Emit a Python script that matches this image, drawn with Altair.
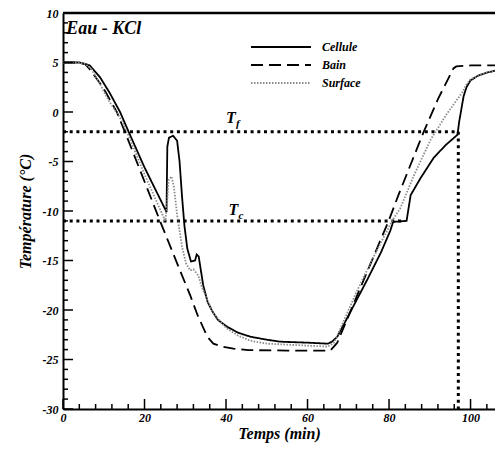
import altair as alt
import pandas as pd

# ---- data ----
cellule_t = [0, 4, 5.5, 6.6, 9.1, 11.5, 14, 16, 20, 25.4, 25.6, 26, 27, 28, 28.6, 29.2, 29.8, 30.5, 31.4, 32.4, 32.8, 33.3,
             34.4, 35.5, 36.6, 38, 40.3, 43, 46, 50, 53.3, 60, 65, 66, 67.3, 70, 74.7, 78, 80.3, 81, 84.3, 85.3, 87.7,
             91, 94, 96.8, 97.2, 98.3, 99, 100, 102, 104.2, 107.4]
cellule_v = [5, 5, 4.85, 4.7, 3.5, 1.9, 0, -1.9, -5.6, -10.1, -3.5, -2.6, -2.4, -2.9, -5, -8.5, -11.5, -13.8, -15.1, -15.0,
             -14.4, -14.6, -17.5, -19.2, -20.1, -21, -21.7, -22.3, -22.7, -23.0, -23.2, -23.3, -23.4, -23.2, -22.7, -20.6,
             -16.9, -14.2, -12, -11.1, -11.0, -8.4, -6.7, -4.6, -3.3, -2.3, -1, 1.6, 2.5, 3.2, 3.7, 4.0, 4.3]

bain_t = [0, 4, 5.5, 6.6, 9.8, 13.2, 15.2, 23.8, 28.7, 31.2, 33, 35.4, 36.9, 39, 41.8, 45.5, 55, 65.6, 67.3, 72, 79.9,
          82.3, 88.5, 92, 95.8, 96.5, 100, 107.4]
bain_v = [5, 5, 4.8, 4.3, 2.5, 0, -2, -11, -16, -18.5, -20.5, -22.7, -23.4, -23.7, -23.9, -24.05, -24.1, -24.1, -23.3,
          -18.7, -11, -8.4, -2, 1.3, 4.4, 4.6, 4.7, 4.7]

surface_t = [0, 4, 5.5, 7, 9, 11, 14, 15.7, 20, 24, 25.1, 25.5, 25.9, 26.6, 27.2, 28, 29.2, 30.2, 31.2, 32, 33.2, 34,
             35.4, 37, 40, 43, 46, 50, 55, 60, 65, 66.5, 67.5, 72, 76, 80, 81, 82.8, 86, 90.2, 94, 98, 99, 100, 104, 107.4]
surface_v = [5, 5, 4.85, 4.3, 2.9, 1.3, -0.6, -2, -6.3, -10, -11.0, -9.5, -6.9, -6.5, -7.5, -10.4, -13.6, -15.3, -16,
             -15.9, -16.5, -17.6, -19, -20.4, -21.8, -22.6, -23.1, -23.4, -23.5, -23.6, -23.7, -23.3, -22.4, -18.2,
             -14.8, -11.6, -10.8, -9.7, -6.5, -2.8, -0.3, 2.0, 2.8, 3.3, 4.0, 4.3]

series_names = ["Cellule", "Bain", "Surface"]

# reference lines (Tf, Tc, end of melting)
ref_x = [0, 0, 97.0]
ref_x2 = [96.8, 83.5, 97.0]
ref_y = [-2, -11, -2]
ref_y2 = [-2, -11, -30]

# annotations
ann_text = ["T", "T"]
ann_sub = ["f", "c"]
ann_x = [40.0, 40.6]
ann_y = [-0.6, -9.9]

title_text = "Eau - KCl"

# axis ticks
x_major = [0, 20, 40, 60, 80, 100]
x_minor = [v for v in range(0, 108, 4) if v % 20 != 0]
y_major = [-30, -25, -20, -15, -10, -5, 0, 5, 10]
y_minor = [v for v in range(-30, 11) if v % 5 != 0]

X_MAX = 106
W, H = 432, 396
FONT = "Liberation Serif"

# ---- tables ----
rows = []
for name, ts, vs in [("Cellule", cellule_t, cellule_v), ("Bain", bain_t, bain_v), ("Surface", surface_t, surface_v)]:
    for i, (t, v) in enumerate(zip(ts, vs)):
        rows.append({"serie": name, "t": t, "T": v, "i": i})
df = pd.DataFrame(rows)
refs = pd.DataFrame({"x": ref_x, "x2": ref_x2, "y": ref_y, "y2": ref_y2})
ann = pd.DataFrame({"x": ann_x, "y": ann_y, "txt": ann_text, "sub": ann_sub})
ttl = pd.DataFrame({"x": [0.8], "y": [8.4], "txt": [title_text]})
xmaj = pd.DataFrame({"v": x_major})
xmin = pd.DataFrame({"v": x_minor})
ymaj = pd.DataFrame({"v": y_major})
ymin = pd.DataFrame({"v": y_minor})

xscale = alt.Scale(domain=[0, X_MAX], nice=False, zero=False)
yscale = alt.Scale(domain=[-30, 10], nice=False, zero=False)

x_axis = alt.Axis(values=x_major, title="Temps (min)", ticks=False, grid=False, labelPadding=3, titlePadding=2,
                  labelExpr="'' + datum.value")
y_axis = alt.Axis(values=y_major, title="Température (°C)", ticks=False, grid=False, labelPadding=5, titlePadding=9,
                  labelExpr="'' + datum.value")

leg = alt.Legend(title=None, orient="none", legendX=187, legendY=26,
                 symbolType="stroke", symbolSize=3600, clipHeight=16,
                 labelFont=FONT, labelFontSize=12, labelFontStyle="italic",
                 labelFontWeight="bold", labelOffset=10, symbolStrokeWidth=1.6, labelColor="black")

lines = alt.Chart(df).mark_line(clip=True, strokeCap="butt").encode(
    x=alt.X("t:Q", scale=xscale, axis=x_axis),
    y=alt.Y("T:Q", scale=yscale, axis=y_axis),
    order="i:Q",
    color=alt.Color("serie:N", scale=alt.Scale(domain=series_names, range=["#000000", "#000000", "#8a8a8a"]),
                    legend=leg),
    strokeDash=alt.StrokeDash("serie:N", scale=alt.Scale(domain=series_names, range=[[1, 0], [12, 6], [1.5, 1.5]]),
                              legend=leg),
    strokeWidth=alt.StrokeWidth("serie:N", scale=alt.Scale(domain=series_names, range=[1.8, 1.8, 1.0]), legend=None),
)

ref_rules = alt.Chart(refs).mark_rule(color="black", strokeWidth=3, strokeDash=[3, 3.7], strokeCap="butt").encode(
    x=alt.X("x:Q", scale=xscale), x2="x2:Q",
    y=alt.Y("y:Q", scale=yscale), y2="y2:Q",
)

top_border = alt.Chart(ttl).mark_rule(color="black", strokeWidth=2.5).encode(
    x=alt.datum(0, scale=xscale), x2=alt.datum(X_MAX),
    y=alt.datum(10, scale=yscale),
)

tick_style = dict(color="black", strokeWidth=1.5)
xt_major = alt.Chart(xmaj).mark_rule(**tick_style).encode(
    x=alt.X("v:Q", scale=xscale), y=alt.value(H), y2=alt.value(H - 10))
xt_minor = alt.Chart(xmin).mark_rule(**tick_style).encode(
    x=alt.X("v:Q", scale=xscale), y=alt.value(H), y2=alt.value(H - 5))
yt_major = alt.Chart(ymaj).mark_rule(**tick_style).encode(
    y=alt.Y("v:Q", scale=yscale), x=alt.value(0), x2=alt.value(10))
yt_minor = alt.Chart(ymin).mark_rule(**tick_style).encode(
    y=alt.Y("v:Q", scale=yscale), x=alt.value(0), x2=alt.value(5))

t_main = alt.Chart(ann).mark_text(font=FONT, fontSize=16, fontStyle="italic", fontWeight="bold",
                                  align="left", baseline="middle", color="black").encode(
    x=alt.X("x:Q", scale=xscale), y=alt.Y("y:Q", scale=yscale), text="txt:N")
t_sub = alt.Chart(ann).mark_text(font=FONT, fontSize=11, fontStyle="italic", fontWeight="bold",
                                 align="left", baseline="middle", color="black", dx=10, dy=6).encode(
    x=alt.X("x:Q", scale=xscale), y=alt.Y("y:Q", scale=yscale), text="sub:N")

title_mark = alt.Chart(ttl).mark_text(font=FONT, fontSize=18, fontStyle="italic", fontWeight="bold",
                                      align="left", baseline="middle", color="black").encode(
    x=alt.X("x:Q", scale=xscale), y=alt.Y("y:Q", scale=yscale), text="txt:N")

chart = alt.layer(ref_rules, lines, top_border, xt_major, xt_minor, yt_major, yt_minor,
                  t_main, t_sub, title_mark).properties(
    width=W, height=H,
    autosize=alt.AutoSizeParams(type="none"),
    padding={"left": 55, "top": 5, "right": 0, "bottom": 36},
).configure_view(stroke=None).configure_axis(
    domainColor="black", domainWidth=2,
    labelFont=FONT, labelFontSize=12, labelFontStyle="italic", labelFontWeight="bold", labelColor="black",
    titleFont=FONT, titleFontSize=16, titleFontStyle="italic", titleFontWeight="bold", titleColor="black",
    labelOverlap=False, labelBound=False, labelFlush=False,
)

chart.save("out.html", embed_options={"renderer": "svg", "actions": False})
